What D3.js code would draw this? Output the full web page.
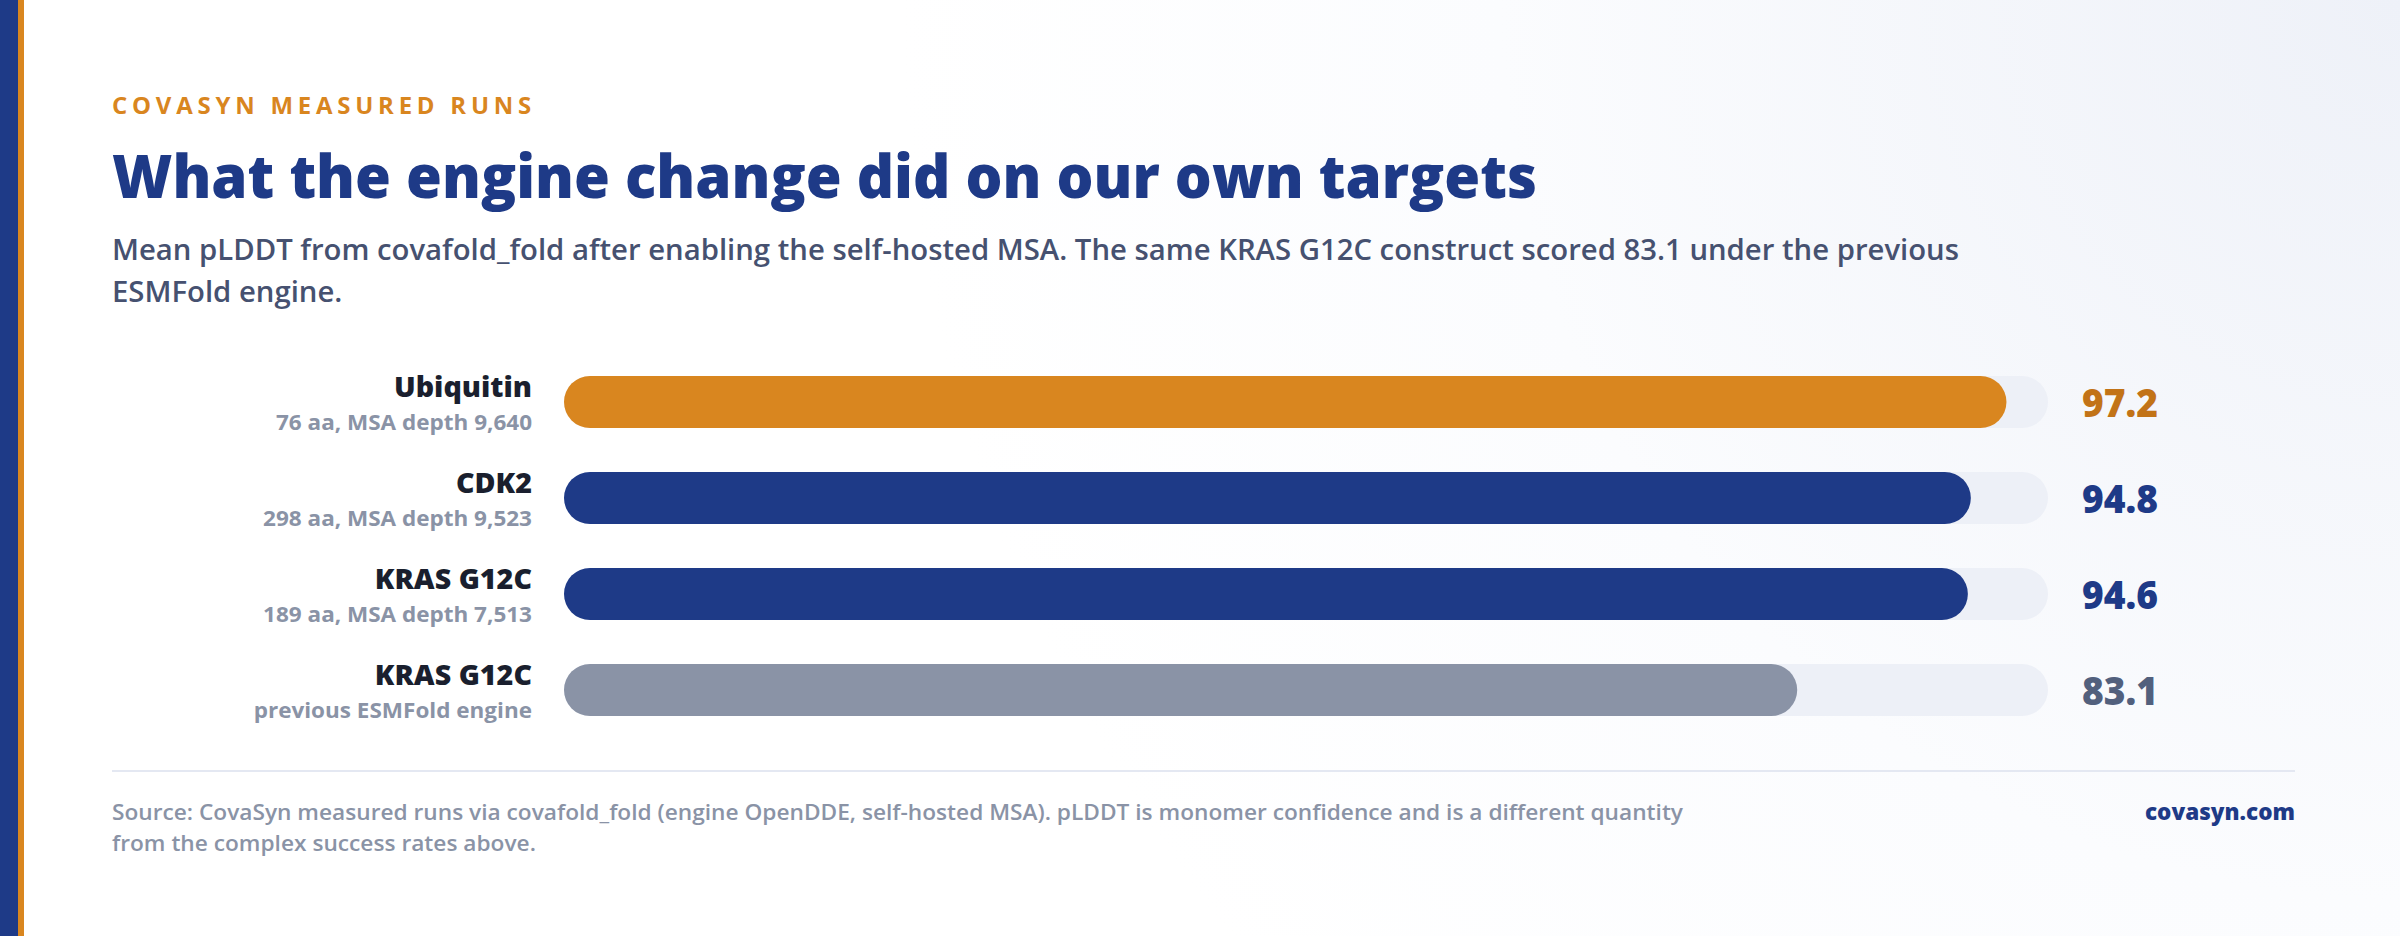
<!DOCTYPE html>
<html>
<head>
<meta charset="utf-8">
<script src="https://cdn.jsdelivr.net/npm/d3@7"></script>
<style>
  html, body { margin: 0; padding: 0; background: #fff; }
  svg { display: block; }
</style>
</head>
<body>
<svg id="chart" width="2400" height="936"></svg>
<script>
// ---- data ----
const names = ["Ubiquitin", "CDK2", "KRAS G12C", "KRAS G12C"];
const details = ["76 aa, MSA depth 9,640", "298 aa, MSA depth 9,523", "189 aa, MSA depth 7,513", "previous ESMFold engine"];
const values = [97.2, 94.8, 94.6, 83.1];
const kinds = ["highlight", "current", "current", "previous"];
const domainMax = 100;

const eyebrow = "COVASYN MEASURED RUNS";
const title = "What the engine change did on our own targets";
const subtitleLines = [
  "Mean pLDDT from covafold_fold after enabling the self-hosted MSA. The same KRAS G12C construct scored 83.1 under the previous",
  "ESMFold engine."
];
const footerLines = [
  "Source: CovaSyn measured runs via covafold_fold (engine OpenDDE, self-hosted MSA). pLDDT is monomer confidence and is a different quantity",
  "from the complex success rates above."
];
const brand = "covasyn.com";

// ---- styles ----
const FONT = "'Open Sans', 'Noto Sans', 'DejaVu Sans', sans-serif";
const NAVY = "#1E3A87", ORANGE = "#D9861F";
const barColor = { highlight: ORANGE, current: NAVY, previous: "#8A93A6" };
const valColor = { highlight: "#C27317", current: NAVY, previous: "#52607D" };

const svg = d3.select("#chart");
const defs = svg.append("defs");
const rg = defs.append("radialGradient").attr("id", "bg")
  .attr("gradientUnits", "userSpaceOnUse").attr("cx", 2400).attr("cy", 0).attr("r", 1500);
rg.append("stop").attr("offset", 0).attr("stop-color", "#EEF1F8");
rg.append("stop").attr("offset", 0.6).attr("stop-color", "#FBFCFE");
rg.append("stop").attr("offset", 1).attr("stop-color", "#FFFFFF");
svg.append("rect").attr("width", 2400).attr("height", 936).attr("fill", "url(#bg)");

svg.append("rect").attr("x", 0).attr("y", 0).attr("width", 18).attr("height", 936).attr("fill", NAVY);
svg.append("rect").attr("x", 18).attr("y", 0).attr("width", 6).attr("height", 936).attr("fill", ORANGE);

// squeeze helper: compress glyphs horizontally so that the first element spans the target width,
// applying the same ratio to all elements in the selection
function squeeze(sel, target) {
  const nodes = sel.nodes();
  const ratio = target / nodes[0].getComputedTextLength();
  nodes.forEach(n => {
    const w = n.getComputedTextLength();
    n.setAttribute("textLength", (w * ratio).toFixed(2));
    n.setAttribute("lengthAdjust", "spacingAndGlyphs");
  });
  return ratio;
}

const left = 112;
squeeze(svg.append("text").attr("x", left).attr("y", 114)
  .attr("font-family", FONT).attr("font-weight", 700).attr("font-size", 24)
  .attr("letter-spacing", "0.2em").attr("fill", ORANGE).text(eyebrow), 424);

squeeze(svg.append("text").attr("x", left).attr("y", 198)
  .attr("font-family", FONT).attr("font-weight", 800).attr("font-size", 60)
  .attr("fill", NAVY).text(title), 1425);

const subT = svg.append("g").selectAll("text").data(subtitleLines).join("text")
  .attr("x", left).attr("y", (d, i) => 260 + i * 42)
  .attr("font-family", FONT).attr("font-weight", 600).attr("font-size", 28)
  .attr("fill", "#465170").text(d => d);
squeeze(subT, 1847);

// ---- scales ----
const x = d3.scaleLinear().domain([0, domainMax]).range([564, 2048]);
const y = d3.scaleBand().domain(d3.range(values.length)).range([376, 716]).paddingInner(44 / 96).paddingOuter(0);
const bh = y.bandwidth();

const rows = svg.append("g").selectAll("g").data(values).join("g");

rows.append("rect").attr("x", x(0)).attr("y", (d, i) => y(i))
  .attr("width", x(domainMax) - x(0)).attr("height", bh).attr("rx", bh / 2)
  .attr("fill", "#EDF0F7");
rows.append("rect").attr("x", x(0)).attr("y", (d, i) => y(i))
  .attr("width", d => x(d) - x(0)).attr("height", bh).attr("rx", bh / 2)
  .attr("fill", (d, i) => barColor[kinds[i]]);

const valTexts = rows.append("text").attr("x", 2082).attr("y", (d, i) => y(i) + bh / 2 + 15)
  .attr("font-family", FONT).attr("font-weight", 800).attr("font-size", 39)
  .attr("fill", (d, i) => valColor[kinds[i]]).text(d => d.toFixed(1));
squeeze(valTexts, 76);

const nameTexts = rows.append("text").attr("x", 532).attr("y", (d, i) => y(i) + bh / 2 - 5)
  .attr("text-anchor", "end").attr("font-family", FONT).attr("font-weight", 800).attr("font-size", 29)
  .attr("fill", "#1A1F2E").text((d, i) => names[i]);
squeeze(nameTexts, 138);

const detTexts = rows.append("text").attr("x", 532).attr("y", (d, i) => y(i) + bh / 2 + 28)
  .attr("text-anchor", "end").attr("font-family", FONT).attr("font-weight", 700).attr("font-size", 21)
  .attr("fill", "#8A93A6").text((d, i) => details[i]);
squeeze(detTexts, 256);

// ---- footer ----
svg.append("line").attr("x1", left).attr("x2", 2295).attr("y1", 771).attr("y2", 771)
  .attr("stroke", "#E4E8F2").attr("stroke-width", 2);

const footT = svg.append("g").selectAll("text").data(footerLines).join("text")
  .attr("x", left).attr("y", (d, i) => 820 + i * 31)
  .attr("font-family", FONT).attr("font-weight", 600).attr("font-size", 21.5)
  .attr("fill", "#8A93A6").text(d => d);
squeeze(footT, 1571);

squeeze(svg.append("text").attr("x", 2295).attr("y", 820).attr("text-anchor", "end")
  .attr("font-family", FONT).attr("font-weight", 800).attr("font-size", 23)
  .attr("fill", NAVY).text(brand), 150);
</script>
</body>
</html>
